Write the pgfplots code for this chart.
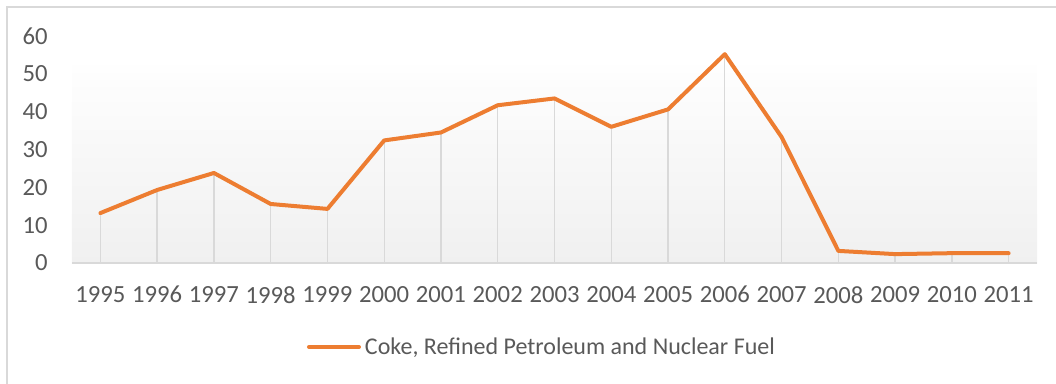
\documentclass[border=0pt]{standalone}
\usepackage{pgfplots}
\pgfplotsset{compat=1.18}
\usepackage{fontspec}
\setmainfont{Carlito}
\definecolor{txt}{HTML}{595959}
\definecolor{gridc}{HTML}{D9D9D9}
\definecolor{orng}{HTML}{ED7D31}
\definecolor{gtop}{HTML}{FEFEFE}
\definecolor{gbot}{HTML}{F0F0F0}
\pgfplotstableread{
year val
1995 13.2
1996 19.3
1997 23.8
1998 15.6
1999 14.3
2000 32.4
2001 34.5
2002 41.7
2003 43.5
2004 36.0
2005 40.6
2006 55.2
2007 33.3
2008 3.2
2009 2.35
2010 2.6
2011 2.6
}\datatable
\begin{document}
\begin{tikzpicture}
\begin{axis}[
  name=ax,
  at={(0,0)}, anchor=south west,
  scale only axis,
  width=723.75pt, height=170.25pt,
  xmin=1994.5, xmax=2011.5,
  ymin=0, ymax=60,
  xtick=data, ytick={0,10,...,60},
  axis line style={draw=none},
  major tick length=0pt,
  /pgf/number format/.cd, 1000 sep={}, assume math mode=true,
  /pgfplots/.cd,
  tick label style={font=\fontsize{18.5pt}{20pt}\selectfont, text=txt},
  yticklabel style={anchor=east, inner sep=0pt, xshift=-18pt},
  xticklabel style={anchor=north, inner sep=0pt, yshift=-17.25pt},
  clip=false,
  legend style={draw=none, fill=none, inner sep=0pt, outer sep=0pt,
    at={(0.2435,-0.370)}, anchor=west,
    nodes={inner sep=0pt, text=txt, font=\fontsize{18pt}{20pt}\selectfont},
    column sep=3pt},
  legend image code/.code={\draw[#1] (1.5pt,0pt) -- (39pt,0pt);},
]
\fill[top color=gtop, bottom color=gbot] (axis cs:1994.5,0) rectangle (axis cs:2011.5,52.1);
\draw[gridc, line width=1pt] (rel axis cs:0,0) -- (rel axis cs:1,0);
\addplot[ycomb, draw=gridc, line width=1pt, forget plot] table[x=year, y=val] {\datatable};
\addplot[orng, line width=3pt, line join=round, line cap=round] table[x=year, y=val] {\datatable};
\addlegendentry{Coke, Refined Petroleum and Nuclear Fuel}
\end{axis}
\draw[gridc, line width=1.1pt] (-48.75pt,-120pt) -- (-48.75pt,192pt) -- (760pt,192pt);
\pgfresetboundingbox
\useasboundingbox (-54pt,-90pt) rectangle (738pt,197.25pt);
\end{tikzpicture}
\end{document}
